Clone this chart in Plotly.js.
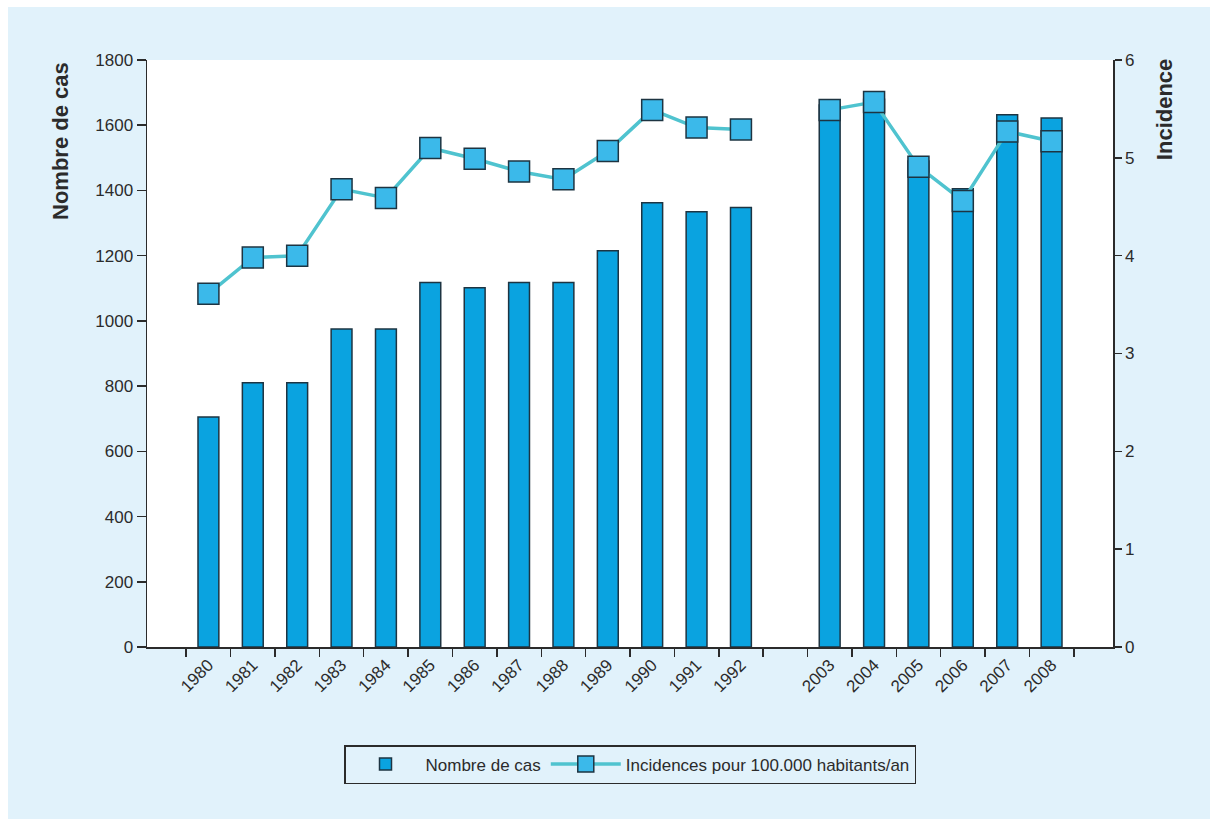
<!DOCTYPE html>
<html>
<head>
<meta charset="utf-8">
<script src="https://cdn.plot.ly/plotly-3.0.1.min.js"></script>
<style>html,body{margin:0;padding:0;background:#fff;}#chart{width:1210px;height:819px;}</style>
</head>
<body>
<div id="chart"></div>
<script>
// Categories (a blank slot separates 1992 and 2003)
const categories = ['1980','1981','1982','1983','1984','1985','1986','1987','1988','1989','1990','1991','1992',' ','2003','2004','2005','2006','2007','2008'];
// Nombre de cas (null = no data for the blank slot)
const nombreDeCas = [705, 810, 810, 975, 975, 1118, 1102, 1118, 1118, 1215, 1362, 1335, 1348, null, 1662, 1680, 1490, 1405, 1632, 1622];
// Incidences pour 100.000 habitants/an
const incidence = [3.61, 3.98, 4.00, 4.68, 4.59, 5.10, 4.99, 4.86, 4.78, 5.07, 5.49, 5.31, 5.29, null, 5.49, 5.57, 4.91, 4.56, 5.27, 5.17];
const barName = 'Nombre de cas';
const lineName = 'Incidences pour 100.000 habitants/an';
const leftTitle = 'Nombre de cas';
const rightTitle = 'Incidence';

const FONT = 'Liberation Sans, Arial, Helvetica, sans-serif';
const INK = '#2b2b2b';
const TICK = {size: 17, color: INK, family: FONT};

const traces = [
  {
    type: 'bar', name: barName, x: categories, y: nombreDeCas,
    marker: {color: '#0AA3E0', line: {color: '#1d3442', width: 1.5}},
    yaxis: 'y', hoverinfo: 'x+y'
  },
  {
    type: 'scatter', mode: 'lines+markers', name: lineName, x: categories, y: incidence,
    yaxis: 'y2', connectgaps: false,
    line: {color: '#4FC3CF', width: 3.5},
    marker: {symbol: 'square', size: 21, color: '#3BB9EA', line: {color: '#1d3442', width: 1.5}}
  }
];

const layout = {
  width: 1210, height: 819,
  paper_bgcolor: '#ffffff', plot_bgcolor: 'rgba(0,0,0,0)',
  margin: {l: 147, r: 97, t: 60, b: 172},
  font: {family: FONT, color: INK, size: 17},
  showlegend: true,
  bargap: 0.53,
  shapes: [
    {type: 'rect', xref: 'paper', yref: 'paper', x0: -139/966, x1: 1.2, y0: -1, y1: 1 + 53/587,
     fillcolor: '#E1F2FB', line: {width: 0}, layer: 'below'},
    {type: 'rect', xref: 'paper', yref: 'paper', x0: 0, x1: 1, y0: 0, y1: 1,
     fillcolor: '#ffffff', line: {width: 0}, layer: 'below'}
  ],
  annotations: [
    {text: leftTitle, xref: 'paper', yref: 'paper', x: -87/966, y: 1.0, xanchor: 'center', yanchor: 'top',
     textangle: -90, showarrow: false, font: {size: 22, color: INK, family: FONT, weight: 'bold'}},
    {text: rightTitle, xref: 'paper', yref: 'paper', x: 1 + 51/966, y: 1.004, xanchor: 'center', yanchor: 'top',
     textangle: -90, showarrow: false, font: {size: 22, color: INK, family: FONT, weight: 'bold'}}
  ],
  xaxis: {
    type: 'category', categoryorder: 'array', categoryarray: categories,
    showline: true, linecolor: INK, linewidth: 1.5,
    ticks: 'outside', tickson: 'boundaries', ticklen: 8, tickwidth: 1.5, tickcolor: INK,
    tickangle: -45, tickfont: TICK,
    showgrid: false, zeroline: false, automargin: false, fixedrange: true
  },
  yaxis: {
    range: [0, 1800], dtick: 200, tick0: 0,
    showline: true, linecolor: INK, linewidth: 1.5,
    ticks: 'outside', ticklen: 9, tickwidth: 1.5, tickcolor: INK,
    tickfont: TICK,
    showgrid: false, zeroline: false, automargin: false
  },
  yaxis2: {
    overlaying: 'y', side: 'right', range: [0, 6], dtick: 1, tick0: 0,
    showline: true, linecolor: INK, linewidth: 1.5,
    ticks: 'outside', ticklen: 7, tickwidth: 1.5, tickcolor: INK,
    tickfont: TICK,
    showgrid: false, zeroline: false, automargin: false
  },
  legend: {
    orientation: 'h', x: 0.5, xanchor: 'center', y: -0.167, yanchor: 'top',
    bgcolor: '#E1F2FB', bordercolor: INK, borderwidth: 1.5,
    font: {size: 17, color: INK, family: FONT},
    itemwidth: 70, itemsizing: 'trace', traceorder: 'normal'
  }
};

Plotly.newPlot('chart', traces, layout, {displayModeBar: false, staticPlot: true});
</script>
</body>
</html>
